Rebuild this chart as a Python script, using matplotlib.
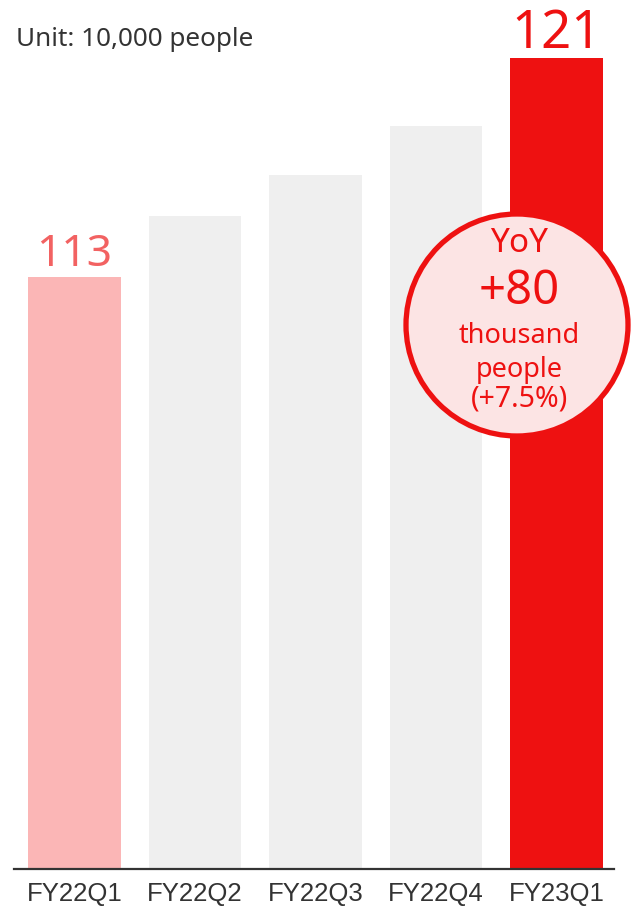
import matplotlib.pyplot as plt
from matplotlib.patches import Circle

quarters = ['FY22Q1', 'FY22Q2', 'FY22Q3', 'FY22Q4', 'FY23Q1']
users = [113, 115.2, 116.7, 118.5, 121]
shown = {0: '113', 4: '121'}

bar_colors = ['#fbb6b6', '#efefef', '#efefef', '#efefef', '#ee1111']
label_colors = {0: '#f26262', 4: '#ee1111'}
label_sizes = {0: 32, 4: 38}
label_pads = {0: 8, 4: 7}

W, H = 631, 908
fig = plt.figure(figsize=(W / 100, H / 100), dpi=100)
ax = fig.add_axes([14 / W, 39 / H, 600 / W, 869 / H])

x = list(range(len(quarters)))
ax.bar(x, users, width=0.77, color=bar_colors, bottom=0)
ax.set_xlim(-0.502, 4.477)
ax.set_ylim(91.37, 123.1)

for i, txt in shown.items():
    ax.annotate(txt, (x[i], users[i]), xytext=(0, label_pads[i]),
                textcoords='offset points', ha='center', va='baseline',
                fontsize=label_sizes[i], color=label_colors[i], family='Noto Sans')

for s in ['top', 'left', 'right']:
    ax.spines[s].set_visible(False)
ax.spines['bottom'].set_color('#333333')
ax.spines['bottom'].set_linewidth(1.6)
ax.set_yticks([])
ax.set_xticks(x)
ax.set_xticklabels(quarters, family='Liberation Sans', fontsize=18.5, color='#333333')
ax.tick_params(axis='x', length=0, pad=9)

fig.text(16 / W, 1 - 39 / H, 'Unit: 10,000 people', fontsize=18.8, color='#333333',
         family='Noto Sans', va='center', ha='left')

# YoY badge
badge = Circle((517 / 100, (H - 325) / 100), 1.11, transform=fig.dpi_scale_trans,
               facecolor='#fce4e4', edgecolor='#ee1111', linewidth=3.8)
fig.add_artist(badge)
badge_lines = [('YoY', 243, 24), ('+80', 291, 34), ('thousand', 336, 19.5),
               ('people', 370, 19.5), ('(+7.5%)', 399, 20.5)]
for txt, yc, fs in badge_lines:
    fig.text(519 / W, 1 - yc / H, txt, fontsize=fs, color='#ee1111',
             family='Noto Sans', ha='center', va='center')

fig.savefig('out.png', dpi=100)
